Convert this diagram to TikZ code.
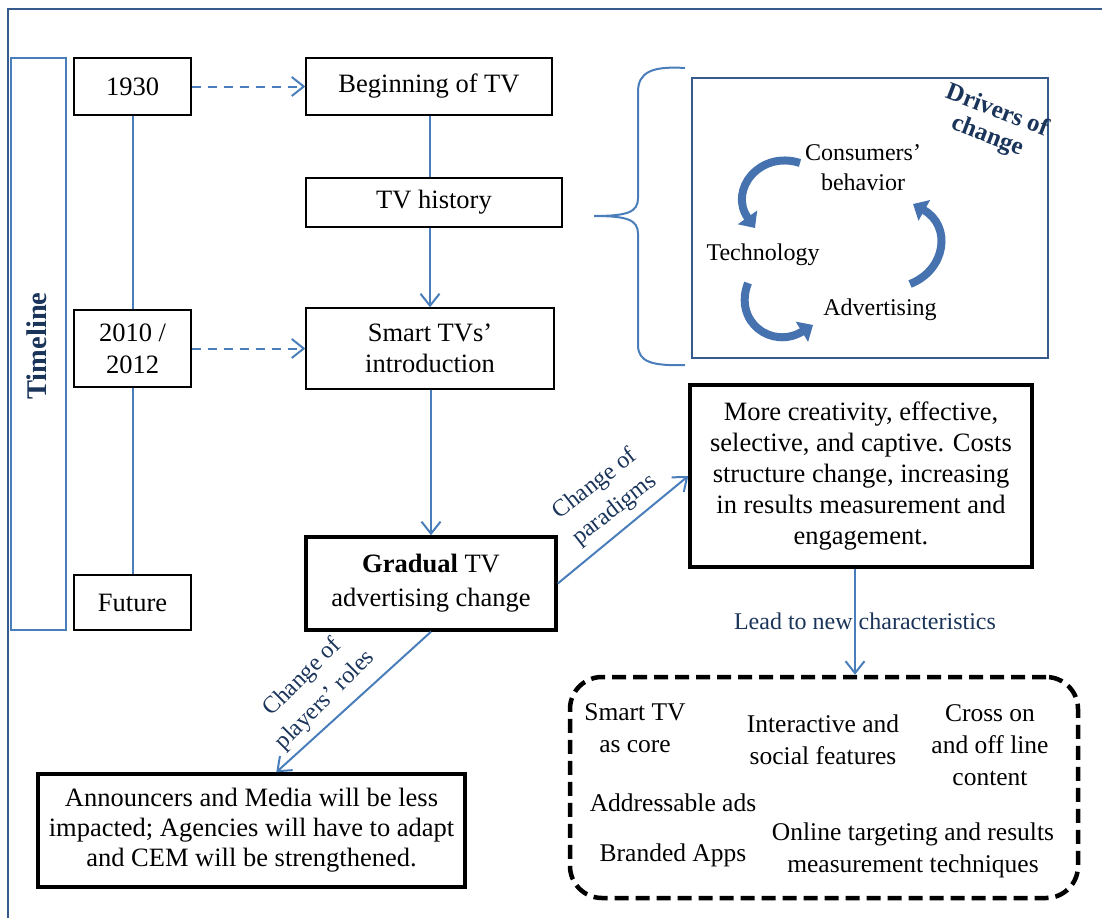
\documentclass[tikz,border=0pt]{standalone}
\usepackage{fontspec}
\setmainfont{Liberation Serif}
\usetikzlibrary{arrows.meta}
\definecolor{frameblue}{RGB}{54,90,140}
\definecolor{lineblue}{RGB}{74,126,187}
\definecolor{navy}{RGB}{26,52,90}
\definecolor{curvblue}{RGB}{70,115,175}
\definecolor{curvedge}{RGB}{50,85,135}
\tikzset{
  thinbox/.style={draw=black, line width=1.3pt, align=center, inner sep=0pt,
    font=\fontsize{26.5}{31}\selectfont},
  thickbox/.style={draw=black, line width=3.5pt, align=center, inner sep=0pt,
    font=\fontsize{26.5}{31}\selectfont},
  conn/.style={draw=lineblue, line width=2pt,
    -{Straight Barb[length=12pt,width=19pt,line width=2pt]}},
  dconn/.style={conn, dash pattern=on 9pt off 7pt},
  plainconn/.style={draw=lineblue, line width=2pt},
  lbl/.style={text=navy, align=center, font=\fontsize{24}{32}\selectfont},
  drv/.style={align=center, font=\fontsize{24}{30}\selectfont},
  feat/.style={align=center, font=\fontsize{25.5}{32}\selectfont},
  cycarrow/.style={draw=curvblue, line width=8pt,
    -{Triangle[length=13pt,width=23pt]}},
}
\begin{document}
\begin{tikzpicture}[x=1pt,y=-1pt]
\useasboundingbox (0,0) rectangle (1102,918);

% outer frame (runs off the page to the right and bottom)
\draw[frameblue, line width=2.5pt] (8,918) -- (8,9) -- (1102,9);

% timeline bar
\node[draw=lineblue, line width=1.3pt, minimum width=55pt, minimum height=572pt,
  inner sep=0pt] (bar) at (38.5,344) {};
\node[rotate=90, text=navy, font=\fontsize{28.5}{30}\selectfont\bfseries] (tl) at (37,346) {Timeline};

% years
\node[thinbox, minimum width=117pt, minimum height=57pt] (y1930) at (132.5,86.5) {1930};
\node[thinbox, minimum width=117pt, minimum height=77pt, font=\fontsize{26.5}{32}\selectfont]
  (y2010) at (132.5,348.5) {2010 /\\2012};
\node[thinbox, minimum width=117pt, minimum height=55pt] (yfut) at (132.5,602.5) {Future};
\draw[plainconn] (y1930) -- (y2010);
\draw[plainconn] (y2010) -- (yfut);

% main column
\node[thinbox, minimum width=246pt, minimum height=57pt] (begin) at (429,86.5) {Beginning of TV};
\node[thinbox, minimum width=256pt, minimum height=49pt] (hist) at (434,202.5) {TV history};
\node[thinbox, minimum width=248pt, minimum height=81pt] (smart) at (430,348.5) {Smart TVs’\\introduction};
\node[thickbox, minimum width=250pt, minimum height=93pt,
  font=\fontsize{26.5}{34}\selectfont] (grad) at (431,583.5) {\textbf{Gradual} TV\\advertising change};

\draw[dconn] (y1930) -- (begin);
\draw[dconn] (y2010) -- (smart);
\draw[plainconn] (begin.south -| smart.north) -- (hist.north -| smart.north);
\draw[conn] (hist.south -| smart.north) -- (smart.north);
\draw[conn] (smart.south -| grad.north) -- (grad.north);

% drivers of change
\draw[lineblue, line width=2pt]
  (685,68) .. controls (652,66) and (638,72) .. (638,92) -- (638,198)
  .. controls (638,212) and (628,216) .. (594,216)
  .. controls (628,216) and (638,220) .. (638,234) -- (638,345)
  .. controls (638,362) and (652,366) .. (685,365);
\node[draw=frameblue, line width=2.5pt, minimum width=356pt, minimum height=280pt,
  inner sep=0pt] (drivers) at (870,218) {};
\node[rotate=-21, text=navy, align=center, font=\fontsize{25}{27}\selectfont\bfseries]
  (drvtitle) at (992,124) {Drivers of\\change};
\node[drv] (cons) at (863,168) {Consumers’\\behavior};
\node[drv] (tech) at (763,255) {Technology};
\node[drv] (adv) at (880,310) {Advertising};
\draw[cycarrow] (800,163) .. controls (760,150) and (728,190) .. (755,228);
\draw[cycarrow] (748,283) .. controls (733,322) and (772,350) .. (813,325);
\draw[cycarrow] (910,284) .. controls (946,270) and (952,226) .. (913,204);

% outcomes
\node[thickbox, minimum width=342pt, minimum height=182pt] (more) at (861,476)
  {More creativity, effective,\\selective, and captive. Costs\\structure change, increasing\\in results measurement and\\engagement.};
\node[thickbox, minimum width=427pt, minimum height=113pt,
  font=\fontsize{26.5}{30}\selectfont] (announce) at (251.5,830.5)
  {Announcers and Media will be less\\impacted; Agencies will have to adapt\\and CEM will be strengthened.};
\node[draw=black, line width=4.5pt, dash pattern=on 14pt off 7pt, rounded corners=32pt,
  minimum width=508pt, minimum height=221pt, inner sep=0pt] (feats) at (824,787.5) {};

\draw[conn] (grad.east) -- (more.west);
\draw[conn] (grad.south) -- ([xshift=240pt]announce.north west);
\draw[conn] ([xshift=-6pt]more.south) -- ([xshift=-6pt]more.south |- feats.north);

\node[lbl, rotate=38] (lparad) at (605,497) {Change of\\paradigms};
\node[lbl, rotate=45] (lplay) at (314,689) {Change of\\players’ roles};
\node[lbl] (llead) at (865,621) {Lead to new characteristics};

% new characteristics
\node[feat] (f1) at (635,728) {Smart TV\\as core};
\node[feat] (f2) at (823,740) {Interactive and\\social features};
\node[feat] (f3) at (990,745) {Cross on\\and off line\\content};
\node[feat] (f4) at (673,803) {Addressable ads};
\node[feat] (f5) at (673,855) {Branded Apps};
\node[feat] (f6) at (913,850) {Online targeting and results\\measurement techniques};
\end{tikzpicture}
\end{document}
